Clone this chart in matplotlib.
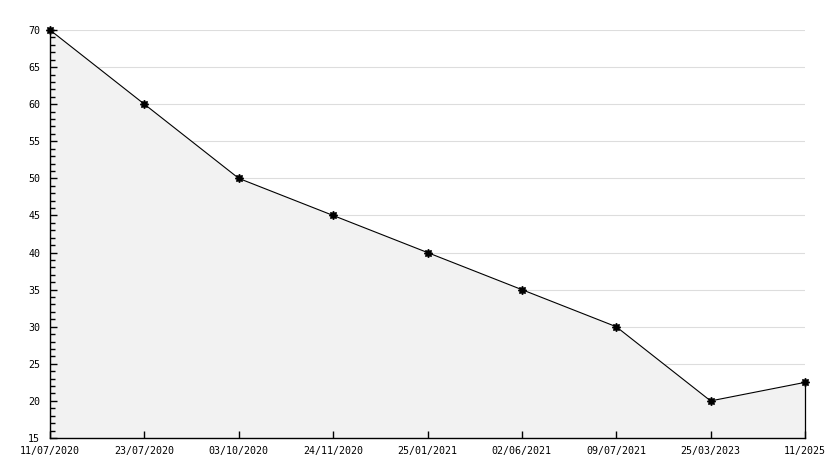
import matplotlib
matplotlib.use("Agg")
import matplotlib.pyplot as plt
from matplotlib.ticker import MultipleLocator

labels = ["11/07/2020", "23/07/2020", "03/10/2020", "24/11/2020", "25/01/2021",
          "02/06/2021", "09/07/2021", "25/03/2023", "11/2025"]
values = [70, 60, 50, 45, 40, 35, 30, 20, 22.5]

plt.rcParams['font.family'] = ['DejaVu Sans Mono']
fig = plt.figure(figsize=(8.34, 4.68), dpi=100)
ax = fig.add_axes([50/834, 30/468, 755/834, 408/468])
x = list(range(len(values)))
ymin, ymax = 15, 70

for gy in range(20, 71, 5):
    ax.axhline(gy, color='#dddddd', lw=0.8, zorder=0)
ax.fill_between(x, values, ymin, color='#f2f2f2', linewidth=0, zorder=1)
ax.plot([x[-1], x[-1]], [ymin, values[-1]], color='black', lw=0.9, zorder=2,
        clip_on=False)
ax.plot(x, values, color='black', lw=0.8, marker=(8, 1, 0), markersize=6,
        markerfacecolor='black', markeredgecolor='black', zorder=3,
        clip_on=False)

ax.set_xlim(0, len(values) - 1)
ax.set_ylim(ymin, ymax)
ax.yaxis.set_major_locator(MultipleLocator(5))
ax.yaxis.set_minor_locator(MultipleLocator(1))
ax.set_xticks(x)
ax.set_xticklabels(labels)
for s in ['top', 'right']:
    ax.spines[s].set_visible(False)
for s in ['left', 'bottom']:
    ax.spines[s].set_linewidth(1.0)
ax.tick_params(axis='both', which='both', direction='in', labelsize=7.2,
               width=1, colors='black')
ax.tick_params(axis='y', which='major', length=5, pad=7)
ax.tick_params(axis='y', which='minor', length=3.5)
ax.tick_params(axis='x', which='major', length=5, pad=5.5)
fig.savefig('out.png', dpi=100)
